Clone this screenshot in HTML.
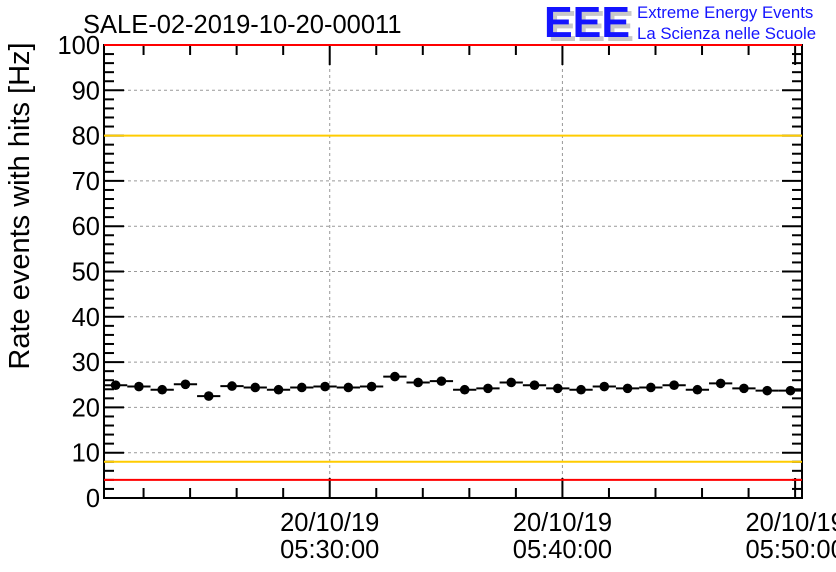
<!DOCTYPE html>
<html><head><meta charset="utf-8"><style>
body{margin:0;background:#fff;}
svg{display:block;font-family:"Liberation Sans",Arial,sans-serif;}
</style></head><body>
<svg id="c" width="836" height="572" viewBox="0 0 836 572">
<rect width="836" height="572" fill="#fff"/>
<text x="83" y="33" font-size="25.5">SALE-02-2019-10-20-00011</text>
<g>
<text x="548" y="41" font-size="44" font-weight="bold" fill="#c8c8c8" textLength="86" lengthAdjust="spacingAndGlyphs">EEE</text>
<text x="544" y="37" font-size="44" font-weight="bold" fill="#1414ff" textLength="86" lengthAdjust="spacingAndGlyphs">EEE</text>
<text x="637" y="18" font-size="16.8" fill="#1414ff">Extreme Energy Events</text>
<text x="637" y="39" font-size="16.8" fill="#1414ff">La Scienza nelle Scuole</text>
</g>
<text transform="translate(29,206) rotate(-90)" text-anchor="middle" font-size="29">Rate events with hits [Hz]</text>
<g id="grid"></g><g id="axes"></g><g id="marks"></g>
</svg>
<script>
const values=[24.9,24.6,23.9,25.1,22.5,24.7,24.4,23.9,24.4,24.6,24.4,24.6,26.8,25.5,25.8,23.9,24.2,25.5,24.9,24.2,23.9,24.6,24.2,24.4,24.9,23.9,25.3,24.2,23.7,23.7];
const yTicks=[0,10,20,30,40,50,60,70,80,90,100];
const xTickMinutes=[9.7,19.7,29.7];
const xTickLabels=[["20/10/19","05:30:00"],["20/10/19","05:40:00"],["20/10/19","05:50:00"]];
const refLines=[{v:100,c:"#ff0000",n:"upper-red-limit"},{v:80,c:"#ffcc00",n:"upper-orange-limit"},{v:8,c:"#ffcc00",n:"lower-orange-limit"},{v:4,c:"#ff0000",n:"lower-red-limit"}];
const X0=104,X1=802,Y0=498,Y1=45,PXMIN=23.27;
const x=m=>X0+m*PXMIN;
const y=v=>Y0-(v/100)*(Y0-Y1);
const NS="http://www.w3.org/2000/svg";
function mk(t,a,p){const e=document.createElementNS(NS,t);for(const k in a)e.setAttribute(k,a[k]);p.appendChild(e);return e;}
const G=document.getElementById('grid'),A=document.getElementById('axes'),M=document.getElementById('marks');
yTicks.forEach(v=>{
 if(v>0&&v<100){const l=mk('line',{x1:X0,x2:X1,y1:y(v),y2:y(v),stroke:'#999','stroke-dasharray':'3,3'},G);
 
 }
 const t=mk('text',{x:X0-4,y:y(v)+9,'text-anchor':'end','font-size':'25.5'},A);t.textContent=v;
 
 
});
for(let v=0;v<=100;v+=2){const len=v%10===0?20:10;
 mk('line',{x1:X0,x2:X0+len,y1:y(v),y2:y(v),stroke:'#000','stroke-width':2},A);
 mk('line',{x1:X1-len,x2:X1,y1:y(v),y2:y(v),stroke:'#000','stroke-width':2},A);}
for(let k=0;k<15;k++){const m=1.7+2*k;const len=(k%5===4)?20:10;
 mk('line',{x1:x(m),x2:x(m),y1:Y0,y2:Y0-len,stroke:'#000','stroke-width':2},A);
 mk('line',{x1:x(m),x2:x(m),y1:Y1,y2:Y1+len,stroke:'#000','stroke-width':2},A);}
xTickMinutes.forEach((m,i)=>{
 if(m<29){const l=mk('line',{x1:x(m),x2:x(m),y1:Y1,y2:Y0,stroke:'#999','stroke-dasharray':'3,3'},G);
 
 }
 xTickLabels[i].forEach((s,j)=>{const t=mk('text',{x:x(m),y:531+j*27,'text-anchor':'middle','font-size':'25.5'},A);t.textContent=s;
 
 });
});
const fr=mk('rect',{x:X0,y:Y1,width:X1-X0,height:Y0-Y1,fill:'none',stroke:'#000','stroke-width':2},A);


refLines.forEach(r=>{const l=mk('line',{x1:X0,x2:X1,y1:y(r.v),y2:y(r.v),stroke:r.c,'stroke-width':2},M);
 
 });
values.forEach((v,i)=>{
 const l=mk('line',{x1:x(i),x2:x(i+1),y1:y(v),y2:y(v),stroke:'#000','stroke-width':2},M);
 
 
 const c=mk('circle',{cx:x(i+0.5),cy:y(v),r:4.8,fill:'#000'},M);
 
 
});
</script>
</body></html>
